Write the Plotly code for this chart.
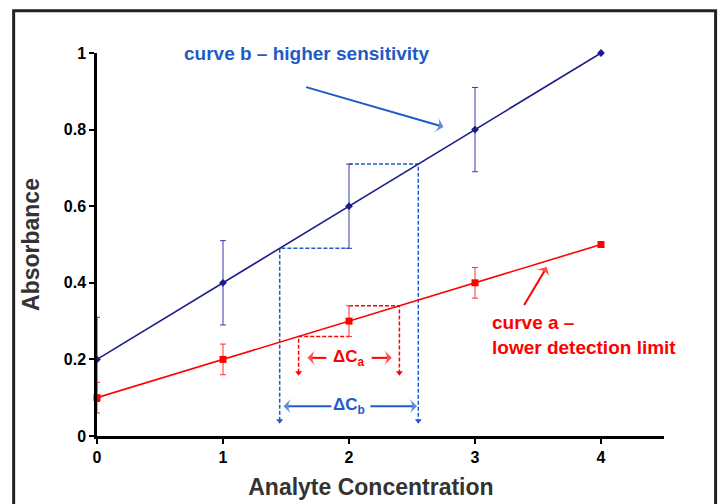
import plotly.graph_objects as go

# ---- data ----
conc = [0, 1, 2, 3, 4]
abs_b = [0.2, 0.4, 0.6, 0.8, 1.0]
err_b = [0.11, 0.11, 0.11, 0.11, 0]
abs_a = [0.1, 0.2, 0.3, 0.4, 0.5]
err_a = [0.04, 0.04, 0.04, 0.04, 0]

x_ticks = [0, 1, 2, 3, 4]
y_ticks = [0, 0.2, 0.4, 0.6, 0.8, 1]
y_tick_labels = ["0", "0.2", "0.4", "0.6", "0.8", "1"]

# guide lines
b_guide_x = [1.45, 2.0, 2.55]      # low crossing, centre point, high crossing
b_guide_y = [0.49, 0.71]           # lower / upper error limits at x=2
b_guide_end = 0.04                 # where the dashed drops end
a_guide_x = [1.6, 2.0, 2.4]
a_guide_y = [0.26, 0.34]
a_guide_end = 0.165

NAVY = "#1c1c8c"
BLUE = "#1f5bc6"
RED = "#ff0000"
FONT = "Liberation Sans, Arial, sans-serif"

fig = go.Figure()

# dashed guides curve b
fig.add_trace(go.Scatter(
    x=[b_guide_x[0], b_guide_x[0], b_guide_x[1]],
    y=[b_guide_end, b_guide_y[0], b_guide_y[0]],
    mode="lines", line=dict(color=BLUE, width=1.5, dash="4px,2px"),
    hoverinfo="skip", showlegend=False))
fig.add_trace(go.Scatter(
    x=[b_guide_x[1], b_guide_x[2], b_guide_x[2]],
    y=[b_guide_y[1], b_guide_y[1], b_guide_end],
    mode="lines", line=dict(color=BLUE, width=1.5, dash="4px,2px"),
    hoverinfo="skip", showlegend=False))
fig.add_trace(go.Scatter(
    x=[b_guide_x[0], b_guide_x[2]], y=[b_guide_end, b_guide_end],
    mode="markers", marker=dict(symbol="triangle-down", size=6, color=BLUE),
    hoverinfo="skip", showlegend=False))

# dashed guides curve a
fig.add_trace(go.Scatter(
    x=[a_guide_x[0], a_guide_x[0], a_guide_x[1]],
    y=[a_guide_end, a_guide_y[0], a_guide_y[0]],
    mode="lines", line=dict(color=RED, width=1.5, dash="4px,2px"),
    hoverinfo="skip", showlegend=False))
fig.add_trace(go.Scatter(
    x=[a_guide_x[1], a_guide_x[2], a_guide_x[2]],
    y=[a_guide_y[1], a_guide_y[1], a_guide_end],
    mode="lines", line=dict(color=RED, width=1.5, dash="4px,2px"),
    hoverinfo="skip", showlegend=False))
fig.add_trace(go.Scatter(
    x=[a_guide_x[0], a_guide_x[2]], y=[a_guide_end, a_guide_end],
    mode="markers", marker=dict(symbol="triangle-down", size=6, color=RED),
    hoverinfo="skip", showlegend=False))

# curve b
fig.add_trace(go.Scatter(
    x=conc, y=abs_b, mode="lines+markers", name="curve b",
    line=dict(color=NAVY, width=1.6),
    marker=dict(symbol="diamond", size=6, color=NAVY),
    error_y=dict(type="data", array=err_b, color="#3a3aa8", thickness=1, width=3),
    showlegend=False, cliponaxis=False))

# curve a
fig.add_trace(go.Scatter(
    x=conc, y=abs_a, mode="lines+markers", name="curve a",
    line=dict(color=RED, width=1.6),
    marker=dict(symbol="square", size=7, color=RED),
    error_y=dict(type="data", array=err_a, color="#ff3030", thickness=1, width=3),
    showlegend=False, cliponaxis=False))


def arrow(x0, y0, x1, y1, color, width=2, size=12):
    fig.add_trace(go.Scatter(
        x=[x0, x1], y=[y0, y1], mode="lines+markers",
        line=dict(color=color, width=width),
        marker=dict(symbol=["circle", "arrow-wide"], size=[0, size], color=color,
                    angleref="previous", line=dict(width=0)),
        hoverinfo="skip", showlegend=False, cliponaxis=False))


# ΔCb arrows, ΔCa arrows, curve pointers
arrow(1.86, 0.078, 1.48, 0.078, BLUE)
arrow(2.17, 0.078, 2.54, 0.078, BLUE)
arrow(1.82, 0.204, 1.67, 0.204, RED)
arrow(2.18, 0.204, 2.34, 0.204, RED)
arrow(1.66, 0.911, 2.75, 0.807, BLUE)
arrow(3.39, 0.342, 3.57, 0.441, RED)

annotations = [
    dict(x=2.0, y=0.078, xref="x", yref="y", text="<b>ΔC<sub>b</sub></b>",
         showarrow=False, font=dict(family=FONT, size=17, color=BLUE)),
    dict(x=2.0, y=0.204, xref="x", yref="y", text="<b>ΔC<sub>a</sub></b>",
         showarrow=False, font=dict(family=FONT, size=17, color=RED)),
    dict(x=1.66, y=1.0, xref="x", yref="y",
         text="<b>curve b – higher sensitivity</b>", showarrow=False,
         font=dict(family=FONT, size=19, color=BLUE)),
    dict(x=3.12, y=0.265, xref="x", yref="y", xanchor="left", align="left",
         text="<b>curve a –<br>lower detection limit</b>", showarrow=False,
         font=dict(family=FONT, size=19, color=RED)),
]

TICKFONT = dict(family=FONT, size=16, color="black", weight="bold")

fig.update_layout(
    width=720, height=504,
    margin=dict(l=97, r=56, t=53, b=68),
    paper_bgcolor="white", plot_bgcolor="white",
    font=dict(family=FONT, color="black"),
    annotations=annotations,
    shapes=[dict(type="rect", xref="paper", yref="paper",
                 x0=-0.147, x1=1.091, y0=-0.25, y1=1.11,
                 line=dict(color="#222222", width=3), layer="below")],
    xaxis=dict(range=[0, 4.5], tickmode="array", tickvals=x_ticks,
               ticktext=[str(v) for v in x_ticks],
               showgrid=False, zeroline=False, showline=True, linecolor="black",
               linewidth=2.5, ticks="outside", ticklen=5, tickwidth=2, tickcolor="black",
               tickfont=TICKFONT, automargin=False,
               title=dict(text="<b>Analyte Concentration</b>&nbsp;&nbsp;&nbsp;", standoff=14,
                          font=dict(size=23, color="#333333"))),
    yaxis=dict(range=[0, 1], tickmode="array", tickvals=y_ticks, ticktext=y_tick_labels,
               showgrid=False, zeroline=False, showline=True, linecolor="black",
               linewidth=2.5, ticks="outside", ticklen=5, tickwidth=2, tickcolor="black",
               tickfont=TICKFONT, automargin=False,
               title=dict(text="<b>Absorbance</b>", standoff=18,
                          font=dict(size=23, color="#333333"))),
)

fig.write_html("out.html")
